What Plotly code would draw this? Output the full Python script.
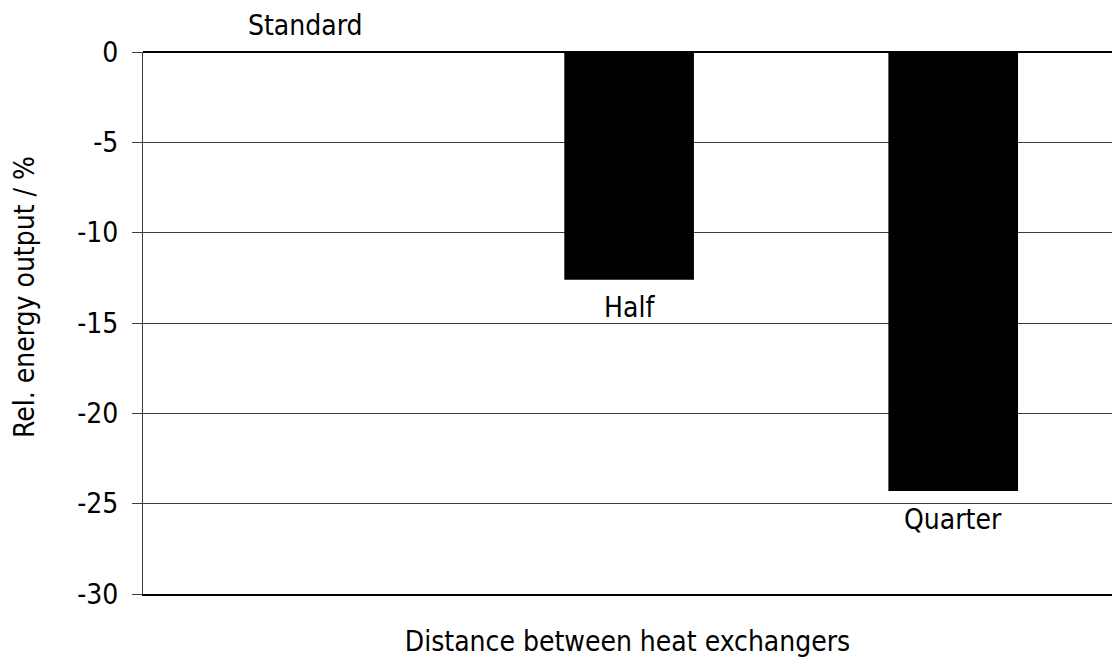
import plotly.graph_objects as go

categories = ["Standard", "Half", "Quarter"]
values = [0.0, -12.6, -24.3]
y_ticks = [0, -5, -10, -15, -20, -25, -30]

FONT = "DejaVu Sans Condensed, DejaVu Sans, sans-serif"
FS = 28

fig = go.Figure()
fig.add_trace(go.Bar(
    x=categories, y=values, width=0.4,
    marker=dict(color="black", line=dict(width=0)),
    showlegend=False, hoverinfo="x+y",
))

for c, v in zip(categories, values):
    fig.add_annotation(
        x=c, y=v, text=c, showarrow=False,
        yshift=27 if v >= 0 else -28,
        font=dict(family=FONT, size=FS, color="black"),
    )

# y-axis title (annotation to match the reference's vertical offset)
fig.add_annotation(
    xref="paper", yref="paper", x=0, y=0.548, xshift=-118,
    text="Rel. energy output / %", textangle=-90, showarrow=False,
    xanchor="center", yanchor="middle",
    font=dict(family=FONT, size=FS, color="black"),
)

fig.update_layout(
    width=1112, height=664,
    margin=dict(l=143, r=0, t=52, b=70),
    paper_bgcolor="white", plot_bgcolor="white",
    font=dict(family=FONT, size=FS, color="black"),
    bargap=0.6,
    xaxis=dict(
        range=[-0.5, 2.49], showticklabels=False, showgrid=False,
        zeroline=False, showline=True, linecolor="black", linewidth=1.5,
        ticks="",
        title=dict(text="Distance between heat exchangers", standoff=37,
                   font=dict(family=FONT, size=FS)),
    ),
    yaxis=dict(
        range=[-30, 0], tickvals=y_ticks, ticktext=[str(t) for t in y_ticks],
        showgrid=True, gridcolor="#3c3c3c", gridwidth=1,
        zeroline=True, zerolinecolor="black", zerolinewidth=1.5,
        showline=True, linecolor="#3c3c3c", linewidth=1,
        ticks="outside", ticklen=10, tickcolor="#3c3c3c", tickwidth=1,
        ticklabelstandoff=8,
        tickfont=dict(family=FONT, size=FS),
    ),
)

fig.write_html(
    "out.html",
    config={"displayModeBar": False},
    post_script="document.body.style.margin='0';document.body.style.overflow='hidden';",
)
